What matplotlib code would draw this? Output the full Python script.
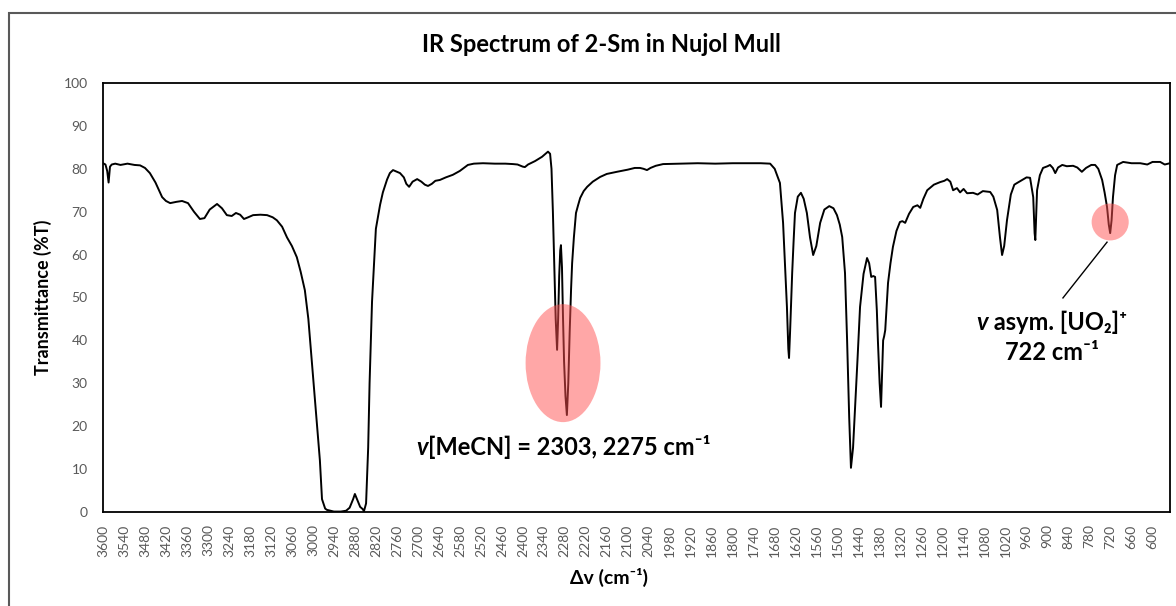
import matplotlib.pyplot as plt
import numpy as np
from matplotlib.patches import Ellipse, Rectangle
from matplotlib.offsetbox import TextArea, HPacker, VPacker, AnnotationBbox

plt.rcParams['font.family'] = ['Lato', 'DejaVu Sans']

## IR spectrum (cm-1, %T)
wavenumber = [3600, 3593, 3588, 3584, 3580, 3575, 3565, 3550, 3530, 3510, 3494, 3480,
              3466, 3450, 3431, 3420, 3408, 3390, 3374, 3357, 3340, 3323, 3310, 3295,
              3274, 3260, 3246, 3232, 3220, 3208, 3197, 3185, 3171, 3150, 3131, 3115,
              3103, 3088, 3074, 3060, 3046, 3035, 3023, 3013, 3003, 2993, 2985, 2980,
              2974, 2965, 2960, 2940, 2920, 2905, 2895, 2885, 2880, 2874, 2865, 2858,
              2854, 2848, 2842, 2838, 2831, 2824, 2820, 2808, 2800, 2788, 2780, 2771,
              2760, 2751, 2740, 2733, 2725, 2715, 2702, 2690, 2680, 2671, 2660, 2650,
              2637, 2620, 2600, 2580, 2557, 2540, 2514, 2480, 2450, 2428, 2415, 2400,
              2394, 2385, 2365, 2345, 2335, 2328, 2322, 2318, 2314, 2310, 2306, 2302,
              2299, 2296, 2293, 2291, 2288, 2285, 2282, 2278, 2274, 2270, 2266, 2262,
              2259, 2254, 2248, 2242, 2236, 2226, 2216, 2200, 2179, 2160, 2131, 2100,
              2080, 2065, 2055, 2045, 2035, 2020, 1999, 1950, 1900, 1850, 1800, 1750,
              1720, 1693, 1680, 1665, 1656, 1650, 1645, 1641, 1639, 1636, 1630, 1626,
              1622, 1614, 1605, 1597, 1588, 1579, 1570, 1561, 1550, 1538, 1524, 1512,
              1502, 1494, 1487, 1479, 1473, 1467, 1462, 1456, 1450, 1443, 1436, 1426,
              1416, 1410, 1404, 1398, 1393, 1388, 1385, 1380, 1376, 1372, 1370, 1367,
              1364, 1360, 1356, 1349, 1342, 1332, 1322, 1315, 1307, 1296, 1284, 1272,
              1264, 1255, 1244, 1225, 1207, 1195, 1187, 1178, 1170, 1159, 1150, 1140,
              1130, 1113, 1100, 1085, 1064, 1055, 1044, 1036, 1030, 1024, 1016, 1005,
              995, 987, 970, 960, 950, 944, 941, 937, 935, 933, 930, 922,
              913, 900, 893, 885, 878, 870, 858, 845, 827, 815, 802, 790,
              775, 764, 755, 744, 737, 730, 725, 721, 717, 713, 707, 701,
              684, 660, 635, 615, 600, 578, 565, 550]
transmittance = [81.3, 81.0, 79.5, 76.8, 80.5, 81.0, 81.2, 80.9, 81.2, 80.9, 80.8, 80.2,
                 79.0, 76.8, 73.4, 72.5, 72.0, 72.3, 72.5, 72.0, 70.0, 68.3, 68.5, 70.5,
                 71.8, 70.8, 69.2, 69.0, 69.7, 69.3, 68.3, 68.7, 69.2, 69.3, 69.2, 68.7,
                 68.0, 66.5, 64.0, 62.0, 59.4, 56.0, 51.7, 45.0, 35.0, 25.0, 17.0, 12.0,
                 3.0, 0.8, 0.5, 0.1, 0.1, 0.3, 1.0, 3.0, 4.2, 3.0, 1.2, 0.7,
                 0.2, 2.0, 15.0, 30.0, 49.0, 60.0, 66.0, 71.6, 74.5, 77.5, 79.0, 79.7,
                 79.3, 79.0, 78.0, 76.5, 75.8, 77.0, 77.6, 77.0, 76.3, 76.0, 76.5, 77.2,
                 77.4, 78.0, 78.6, 79.5, 80.9, 81.2, 81.3, 81.2, 81.2, 81.1, 81.0, 80.5,
                 80.4, 81.0, 81.8, 82.8, 83.5, 84.0, 83.5, 80.0, 70.0, 57.0, 45.0, 37.8,
                 45.0, 55.0, 61.0, 62.2, 57.0, 45.0, 35.0, 27.0, 22.6, 30.0, 42.0, 52.0,
                 58.0, 64.0, 69.7, 71.5, 73.2, 74.8, 75.8, 77.0, 78.1, 78.8, 79.3, 79.8,
                 80.2, 80.2, 80.0, 79.7, 80.2, 80.7, 81.1, 81.2, 81.3, 81.2, 81.3, 81.3,
                 81.3, 81.2, 80.0, 76.7, 67.4, 57.0, 47.8, 38.0, 35.9, 42.0, 55.7, 63.0,
                 69.7, 73.5, 74.4, 73.0, 69.7, 64.0, 59.9, 62.0, 67.4, 70.5, 71.3, 70.8,
                 69.2, 67.0, 64.1, 55.7, 40.0, 22.0, 10.3, 15.0, 24.5, 36.0, 47.8, 55.5,
                 59.2, 58.0, 54.8, 55.0, 54.8, 47.0, 40.0, 30.0, 24.5, 35.0, 40.0, 41.0,
                 42.4, 48.0, 53.4, 58.0, 61.8, 65.5, 67.6, 67.8, 67.4, 69.5, 71.1, 71.5,
                 70.9, 73.0, 75.0, 76.3, 76.9, 77.2, 77.6, 77.0, 75.0, 75.5, 74.5, 75.3,
                 74.3, 74.4, 74.0, 74.8, 74.6, 73.5, 70.4, 64.0, 59.9, 62.0, 68.0, 74.0,
                 76.3, 76.7, 77.5, 78.0, 77.9, 75.0, 73.4, 65.0, 63.4, 68.0, 75.0, 78.5,
                 80.2, 80.6, 80.9, 80.2, 79.0, 80.3, 80.9, 80.6, 80.7, 80.3, 79.3, 80.2,
                 80.9, 80.9, 80.0, 77.4, 74.5, 71.1, 67.0, 65.0, 68.0, 73.4, 78.5, 80.9,
                 81.6, 81.3, 81.3, 81.0, 81.6, 81.6, 81.0, 81.3]

x_ticks = list(range(3600, 599, -60))
y_ticks = list(range(0, 101, 10))

mecn_label = "[MeCN] = 2303, 2275 cm\u207b\u00b9"
uo2_label = " asym. [UO\u2082]\u207a"
uo2_label2 = "722 cm\u207b\u00b9"

#### Plot ####

fig = plt.figure(figsize=(11.76, 6.06), dpi=100)

# outer chart border (cut off at right and bottom)
fig.patches.append(Rectangle((9/1176, -0.05), 1.2, (606-13)/606 + 0.05,
                             transform=fig.transFigure, fill=False,
                             edgecolor='#595959', lw=1.5))

ax = fig.add_axes([103/1176, 94/606, 1067/1176, 429/606])
ax.plot(wavenumber, transmittance, color='black', lw=1.4)

ax.set_xlim(3600, 550)
ax.set_ylim(0, 100)
ax.set_xticks(x_ticks)
ax.set_yticks(y_ticks)
ax.tick_params(axis='both', length=0, labelsize=10, labelcolor='#595959')
ax.tick_params(axis='y', pad=11)
ax.tick_params(axis='x', pad=9, labelrotation=90)
for s in ax.spines.values():
    s.set_color('black')
    s.set_linewidth(1.3)

fig.text(601/1176, (606-45)/606, "IR Spectrum of 2-Sm in Nujol Mull",
         ha='center', va='center', fontsize=17, fontweight='bold')
fig.text(43/1176, 0.51, "Transmittance (%T)", rotation=90,
         ha='center', va='center', fontsize=13, fontweight='bold')
fig.text(609/1176, (606-577)/606, "\u0394v (cm\u207b\u00b9)",
         ha='center', va='center', fontsize=14, fontweight='bold')

# highlighted peaks
ax.add_patch(Ellipse((2285, 34.7), 214, 27.5, facecolor='#ff5050',
                     edgecolor='none', alpha=0.5, zorder=3))
ax.add_patch(Ellipse((721, 67.6), 106, 8.6, facecolor='#ff5050',
                     edgecolor='none', alpha=0.5, zorder=3))
ax.plot([730, 856], [62.9, 49.9], color='black', lw=1)

big = dict(fontsize=17, fontweight='bold', color='black')
ital = dict(fontsize=17, fontweight='bold', fontstyle='italic', color='black')

box1 = HPacker(children=[TextArea("v", textprops=ital), TextArea(mecn_label, textprops=big)],
               align='baseline', pad=0, sep=0)
ax.add_artist(AnnotationBbox(box1, (2285, 15.2), frameon=False, box_alignment=(0.5, 0.5)))

line1 = HPacker(children=[TextArea("v", textprops=ital), TextArea(uo2_label, textprops=big)],
                align='baseline', pad=0, sep=0)
box2 = VPacker(children=[line1, TextArea(uo2_label2, textprops=big)],
               align='center', pad=0, sep=5)
ax.add_artist(AnnotationBbox(box2, (887, 40.7), frameon=False, box_alignment=(0.5, 0.5)))

fig.savefig('out.png', dpi=100)
